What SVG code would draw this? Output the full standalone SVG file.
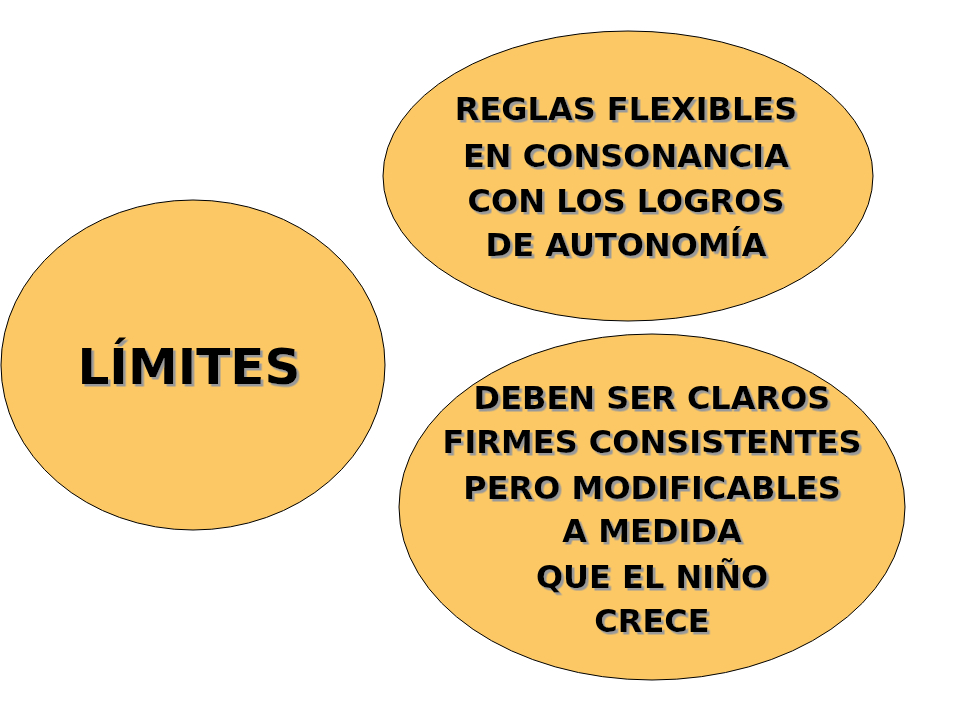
<svg xmlns="http://www.w3.org/2000/svg" width="960" height="720" viewBox="0 0 960 720">
<style>
.e{fill:#FBC865;stroke:#000;stroke-width:1}
text{font-family:"DejaVu Sans","Liberation Sans",sans-serif;font-weight:bold;text-anchor:middle;fill:#000}
.t{font-size:32px}
.b{font-size:50px}
</style>
<defs>
<filter id="sh" x="-10%" y="-10%" width="120%" height="130%">
<feDropShadow dx="2.5" dy="2.5" stdDeviation="0" flood-color="#999"/>
</filter>
</defs>
<rect width="960" height="720" fill="#fff"/>
<g id="limites">
<ellipse class="e" cx="193" cy="365" rx="192" ry="165"/>
<text class="b" x="189" y="384" filter="url(#sh)">LÍMITES</text>
</g>
<g id="reglas">
<ellipse class="e" cx="628" cy="176" rx="245" ry="145"/>
<g class="t" filter="url(#sh)" xml:space="preserve">
<text x="626" y="120">REGLAS  FLEXIBLES</text>
<text x="626" y="167">EN CONSONANCIA</text>
<text x="626" y="212">CON LOS LOGROS</text>
<text x="626" y="256">DE AUTONOMÍA</text>
</g>
</g>
<g id="deben">
<ellipse class="e" cx="652" cy="507" rx="253" ry="173"/>
<g class="t" filter="url(#sh)" xml:space="preserve">
<text x="652" y="409">DEBEN SER  CLAROS</text>
<text x="652" y="453">FIRMES CONSISTENTES</text>
<text x="652" y="499">PERO MODIFICABLES</text>
<text x="652" y="542">A MEDIDA</text>
<text x="652" y="588">QUE EL NIÑO</text>
<text x="652" y="632">CRECE</text>
</g>
</g>
<g id="connectors"/>
</svg>
